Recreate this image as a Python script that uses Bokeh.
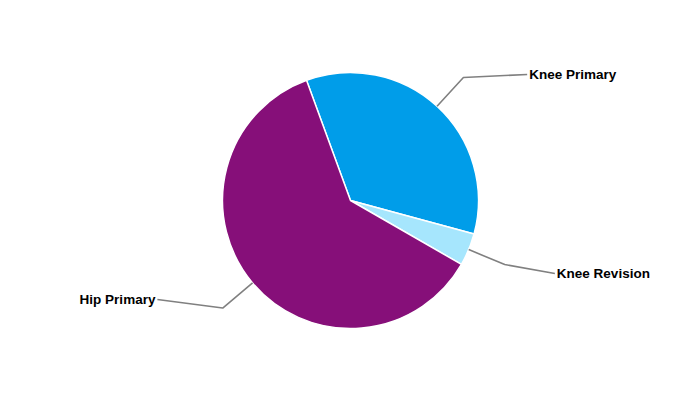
import numpy as np
from bokeh.plotting import figure
from bokeh.models import Range1d, ColumnDataSource
from bokeh.core.properties import value
from bokeh.embed import file_html
from bokeh.resources import INLINE

# ---- data ----
categories = ["Knee Primary", "Knee Revision", "Hip Primary"]
shares = [34.8, 4.1, 61.1]
colors = ["#009DE9", "#A6E6FD", "#860F79"]

# ---- layout (pixels) ----
W, H = 684, 384
CX, CY, R = 350, 200, 128
START_DEG = 110.1
ELBOW_R = 167
LABEL_R = 217
label_dy = [126, -73, -99]  # vertical offset of each label from the centre

vals = np.array(shares, dtype=float)
frac = vals / vals.sum()
start0 = np.radians(START_DEG)
ends = start0 - 2 * np.pi * np.cumsum(frac)
starts = np.concatenate([[start0], ends[:-1]])
mids = (starts + ends) / 2

src = ColumnDataSource(dict(cat=categories, start=starts, end=ends, color=colors))

p = figure(width=W, height=H, output_backend="svg", toolbar_location=None,
           x_range=Range1d(0, W), y_range=Range1d(400 - H, 400),
           min_border=0, outline_line_color=None)
p.axis.visible = False
p.grid.visible = False
p.background_fill_color = "white"

p.wedge(x=CX, y=CY, radius=R, start_angle="start", end_angle="end",
        direction="clock", fill_color="color", line_color="white",
        line_width=1.5, source=src)

xs, ys, tx, ty, aligns = [], [], [], [], []
for m, dy in zip(mids, label_dy):
    side = 1 if np.cos(m) >= 0 else -1
    x0, y0 = CX + R * np.cos(m), CY + R * np.sin(m)
    x1, y1 = CX + ELBOW_R * np.cos(m), CY + ELBOW_R * np.sin(m)
    y2 = CY + dy
    x2 = CX + side * np.sqrt(LABEL_R ** 2 - dy ** 2)
    xs.append([x0, x1, x2])
    ys.append([y0, y1, y2])
    tx.append(x2 + side * 2)
    ty.append(y2)
    aligns.append("left" if side > 0 else "right")

p.multi_line(xs=xs, ys=ys, line_color="#808080", line_width=1.6)

lsrc = ColumnDataSource(dict(x=tx, y=ty, t=categories, a=aligns))
p.text(x="x", y="y", text="t", text_align="a", text_baseline="middle",
       text_font=value("Liberation Sans"), text_font_style="bold",
       text_font_size="13.5px", text_color="black", source=lsrc)

open("out.html", "w").write(file_html(p, INLINE))
